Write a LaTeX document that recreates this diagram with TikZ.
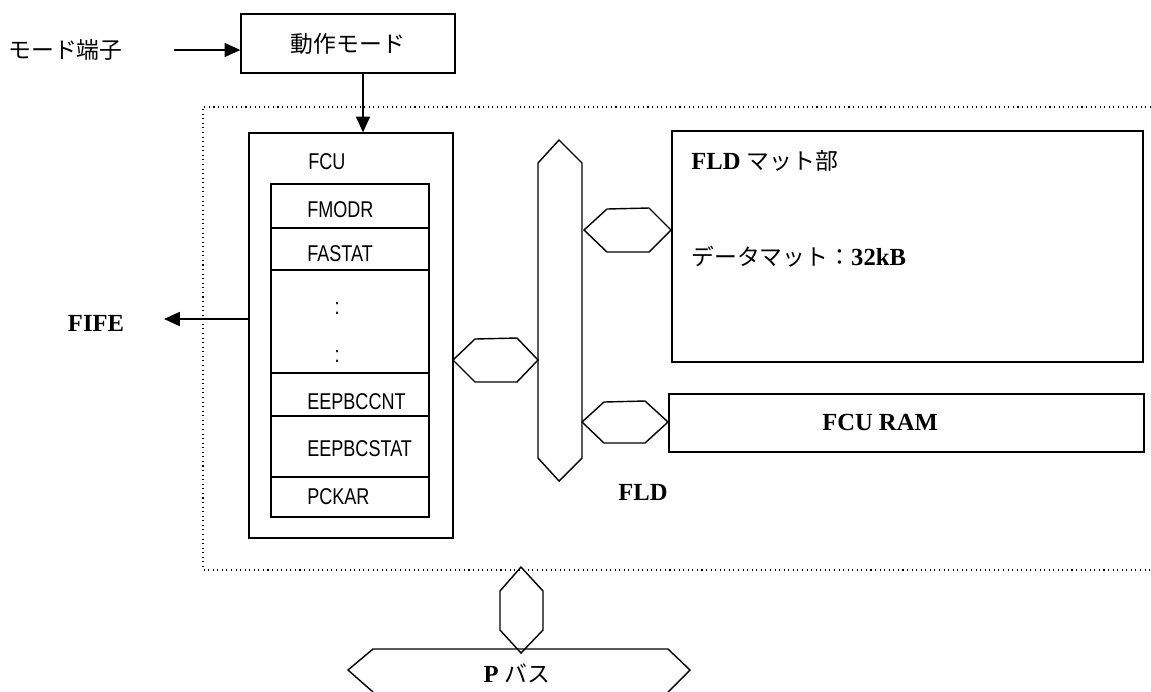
\documentclass[tikz,border=0pt]{standalone}
\usepackage{fontspec}
\newfontfamily\narrowsans{Liberation Sans}[FakeStretch=0.79]
\newfontfamily\jpfont{Noto Sans CJK JP}
\newfontfamily\seriffont{Liberation Serif}
\usetikzlibrary{arrows.meta,positioning,calc}

\tikzset{
  box/.style={draw,line width=0.8pt,inner sep=0pt},
  hexa/.style={draw,line width=0.8pt,line join=miter},
  arr/.style={line width=0.8pt,-{Triangle[length=9pt,width=8pt]}},
  reg/.style={font=\narrowsans\fontsize{13pt}{15pt}\selectfont,anchor=west,inner sep=0pt},
  jp/.style={font=\jpfont\fontsize{13pt}{15pt}\selectfont,inner sep=0pt},
  bold/.style={font=\seriffont\bfseries\fontsize{14pt}{16pt}\selectfont,inner sep=0pt}
}
\newcommand{\jptext}[1]{{\jpfont\mdseries\fontsize{13pt}{15pt}\selectfont #1}}

\begin{document}
\begin{tikzpicture}[x=0.02cm,y=-0.02cm]
        \path[use as bounding box,clip] (0,0) rectangle (1151,691);
        \draw[dotted,line width=0.6pt] (1151,107) -- (203,107) -- (203,570) -- (1151,570);
        \node[box,jp,minimum width=4.28cm,minimum height=1.18cm] (mode) at (348,43.5) {動作モード};
        \node[jp,anchor=west] (modein) at (8,50) {モード端子};
        \coordinate (modestart) at (174,50);
        \draw[arr] (modestart) -- (mode.west |- modestart);
        \node[box,minimum width=4.08cm,minimum height=8.1cm] (fcu) at (351,335.5) {};
        \draw[arr] ([xshift=0.3cm]mode.south) -- ([xshift=0.3cm]mode.south |- fcu.north);
        \node[box,minimum width=3.16cm,minimum height=6.66cm] (regs) at (350,350.5) {};
        \foreach \y in {228,270,373,416,477}
          \draw[line width=0.8pt] (regs.west |- 0,\y) -- (regs.east |- 0,\y);
        \node[reg] (fcuname) at (308,162) {FCU};
        \foreach \y/\t in {210/FMODR,254/FASTAT,402/EEPBCCNT,449/EEPBCSTAT,497/PCKAR}
          \node[reg] (r\y) at (307,\y) {\t};
        \node[reg,anchor=center] (dotsa) at (337,308) {:};
        \node[reg,anchor=center] (dotsb) at (337,356) {:};
        \node[bold] (fife) at (96,323) {FIFE};
        \coordinate (fifeend) at (164,319);
        \draw[arr] (fcu.west |- fifeend) -- (fifeend);
        \draw[hexa] (559,140) -- (582,163) -- (582,458) -- (559,481) -- (538,458) -- (538,163) -- cycle;
        \draw[hexa] (453,360) -- (475,339) -- (517,338) -- (538,360) -- (517,382) -- (475,382) -- cycle;
        \draw[hexa] (584,230) -- (607,209) -- (649,208) -- (671,230) -- (649,252) -- (607,252) -- cycle;
        \draw[hexa] (582,422) -- (604,402) -- (645,401) -- (668,422) -- (645,443) -- (604,443) -- cycle;
        \node[bold] (fld) at (643,492) {FLD};
        \node[box,minimum width=9.42cm,minimum height=4.62cm] (mat) at (907.5,246.5) {};
        \node[bold,anchor=west] (matname) at (691,161) {FLD \jptext{マット部}};
        \node[bold,anchor=west] (matsize) at (691,257) {\jptext{データマット：}32kB};
        \node[box,minimum width=9.5cm,minimum height=1.16cm] (ram) at (906.5,423) {};
        \node[bold] (ramname) at (880,422) {FCU RAM};
        \draw[hexa] (521,567) -- (543,591) -- (543,630) -- (521,653) -- (500,630) -- (500,591) -- cycle;
        \draw[hexa] (373,692) -- (348,670) -- (373,649) -- (668,649) -- (690,670) -- (668,692);
        \node[bold] (pbus) at (517,673) {P \jptext{バス}};
        \end{tikzpicture}
\end{document}
